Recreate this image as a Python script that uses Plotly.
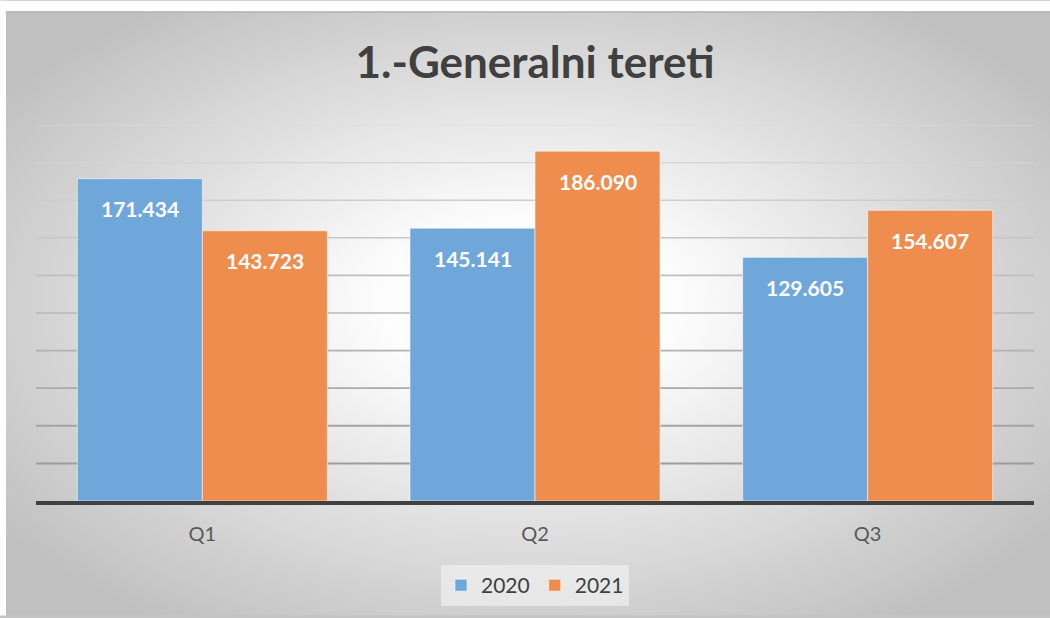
import base64
import plotly.graph_objects as go

categories = ["Q1", "Q2", "Q3"]
series_names = ["2020", "2021"]
values_2020 = [171434, 145141, 129605]
values_2021 = [143723, 186090, 154607]
grid_ticks = [20000, 40000, 60000, 80000, 100000, 120000, 140000, 160000, 180000, 200000]

blue = "#70A7DB"
orange = "#EE8D4E"
font_family = "Lato, 'Open Sans', sans-serif"

W, H = 1050, 618
L, R, T, B = 36, 16, 125, 115
pw, ph = W - L - R, H - T - B

fig = go.Figure()
for name, vals, col in [(series_names[0], values_2020, blue), (series_names[1], values_2021, orange)]:
    fig.add_trace(go.Bar(
        x=categories, y=vals, name=name,
        marker=dict(color=col, line=dict(color="rgba(255,255,255,0.55)", width=1)),
    ))

def fmt(v):
    return f"{v:,}".replace(",", ".")

for vals, shift in [(values_2020, -62.5), (values_2021, 62.5)]:
    for c, v in zip(categories, vals):
        fig.add_annotation(x=c, y=v, text=fmt(v), showarrow=False, xshift=shift, yshift=-30,
                           yanchor="middle",
                           font=dict(family=font_family, size=21, color="white", weight="bold"))

# gridlines with a vertical gradient of greys
n = len(grid_ticks)
for i, t in enumerate(grid_ticks):
    f = i / (n - 1)  # 0 bottom, 1 top
    g = int(0x9c + (0xdc - 0x9c) * f)
    w = 2 - 0.8 * f
    fig.add_shape(type="line", xref="paper", x0=0, x1=1, yref="y", y0=t, y1=t,
                  line=dict(color=f"rgb({g},{g},{g})", width=w), layer="below")

card_x, card_y = 6, 11
cw, chh = W - card_x, H - card_y

svg = f"""<svg xmlns='http://www.w3.org/2000/svg' width='{cw}' height='{chh}' viewBox='0 0 {cw} {chh}' preserveAspectRatio='none'>
<defs><radialGradient id='g' cx='50%' cy='50%' r='62%' fx='50%' fy='48%'>
<stop offset='0' stop-color='#ffffff'/><stop offset='0.22' stop-color='#fdfdfd'/>
<stop offset='1' stop-color='#c0c0c0'/></radialGradient></defs>
<rect width='{cw}' height='{chh}' fill='url(#g)'/>
</svg>"""
src = "data:image/svg+xml;base64," + base64.b64encode(svg.encode()).decode()

fig.add_layout_image(dict(
    source=src, xref="paper", yref="paper",
    x=(card_x - L) / pw, y=(H - B - card_y) / ph,
    sizex=cw / pw, sizey=chh / ph,
    xanchor="left", yanchor="top", sizing="stretch", layer="below",
))

# white page strips above and left of the card, and the card's top edge
fig.add_shape(type="rect", xref="paper", yref="paper", x0=-L / pw, x1=(W - L) / pw,
              y0=(H - B - card_y) / ph, y1=(H - B) / ph, fillcolor="white", line=dict(width=0), layer="above")
fig.add_shape(type="rect", xref="paper", yref="paper", x0=-L / pw, x1=(card_x - L) / pw,
              y0=-B / ph, y1=(H - B) / ph, fillcolor="white", line=dict(width=0), layer="above")
fig.add_shape(type="line", xref="paper", yref="paper", x0=(card_x - L) / pw, x1=(W - L) / pw,
              y0=(H - B - card_y - 0.5) / ph, y1=(H - B - card_y - 0.5) / ph,
              line=dict(color="#b4b4b4", width=1.5), layer="above")

fig.update_layout(
    width=W, height=H,
    margin=dict(l=L, r=R, t=T, b=B),
    paper_bgcolor="#c4c4c4", plot_bgcolor="rgba(0,0,0,0)",
    barmode="group", bargap=1 - 250 / (pw / 3), bargroupgap=0,
    title=dict(text="<b>1.-Generalni tereti</b>", x=(535 - L) / pw, xanchor="center", xref="paper",
               y=1 - 63 / H, yanchor="middle",
               font=dict(family=font_family, size=44, color="#404040")),
    font=dict(family=font_family, color="#595959"),
    xaxis=dict(showgrid=False, showline=True, linecolor="#404040", linewidth=4,
               ticks="outside", ticklen=12, tickcolor="rgba(0,0,0,0)",
               tickfont=dict(size=20, color="#595959"), zeroline=False),
    yaxis=dict(range=[0, 200000], showgrid=False, showticklabels=False, zeroline=False,
               showline=False, tickvals=grid_ticks),
    legend=dict(orientation="h", x=(535 - L) / pw, xanchor="center", y=(H - B - 588) / ph, yanchor="middle",
                font=dict(size=21, color="#404040"), bgcolor="rgba(245,245,245,0.6)",
                itemwidth=30, traceorder="normal"),
    showlegend=True,
)

fig.write_html("out.html", config={"displayModeBar": False},
               post_script="document.body.style.margin='0';document.body.style.overflow='hidden';"
                           "document.body.style.background='#c4c4c4';"
                           "document.documentElement.style.background='#c4c4c4';")
